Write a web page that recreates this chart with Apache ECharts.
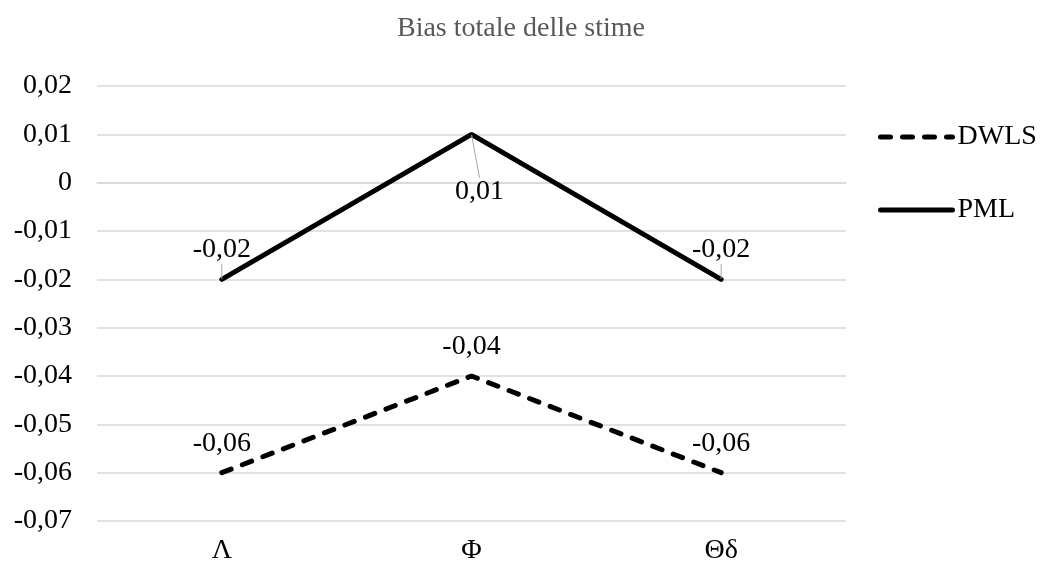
<!DOCTYPE html>
<html>
<head>
<meta charset="utf-8">
<script src="https://cdn.jsdelivr.net/npm/echarts@6/dist/echarts.min.js"></script>
<style>html,body{margin:0;padding:0;background:#fff}#c{width:1042px;height:570px}</style>
</head>
<body>
<div id="c"></div>
<script>
const categories = ['Λ', 'Φ', 'Θδ'];
const dwls = [-0.06, -0.04, -0.06];
const pml = [-0.02, 0.01, -0.02];
const seriesNames = ['DWLS', 'PML'];
const titleText = 'Bias totale delle stime';

const FONT = '"Liberation Serif", "Times New Roman", serif';
const FS = 28;
const fmt = v => { const r = Math.round(v * 100) / 100; return String(r).replace('.', ','); };

const chart = echarts.init(document.getElementById('c'));
chart.setOption({
  animation: false,
  backgroundColor: '#fff',
  title: { text: titleText, left: 'center', top: 10,
    textStyle: { fontFamily: FONT, fontSize: FS, fontWeight: 'normal', color: '#595959' } },
  grid: { left: 97, right: 196, top: 86, bottom: 49 },
  legend: {
    orient: 'vertical', left: 873, top: 118, itemWidth: 72, itemHeight: 20, itemGap: 45,
    textStyle: { fontFamily: FONT, fontSize: FS, color: '#000' },
    lineStyle: { width: 5, cap: 'round' },
    data: seriesNames
  },
  xAxis: {
    type: 'category', data: categories, boundaryGap: true,
    axisLine: { lineStyle: { color: '#d9d9d9', width: 1.5 } },
    axisTick: { show: false },
    axisLabel: { fontFamily: FONT, fontSize: FS, color: '#000', margin: 16 }
  },
  yAxis: {
    type: 'value', min: -0.07, max: 0.02, interval: 0.01,
    axisLine: { show: false }, axisTick: { show: false },
    splitLine: { lineStyle: { color: '#d9d9d9', width: 1.5 } },
    axisLabel: { fontFamily: FONT, fontSize: FS, color: '#000', margin: 25, formatter: fmt }
  },
  series: [
    {
      name: seriesNames[0], type: 'line', data: dwls, symbol: 'circle', symbolSize: 1,
      lineStyle: { color: '#000', width: 5, type: [10, 12], cap: 'round' },
      itemStyle: { color: 'rgba(0,0,0,0)' },
      label: { show: true, position: 'top', distance: 15, fontFamily: FONT, fontSize: FS, color: '#000', formatter: p => fmt(p.value) }
    },
    {
      name: seriesNames[1], type: 'line', data: pml, symbol: 'circle', symbolSize: 1,
      lineStyle: { color: '#000', width: 5, cap: 'round' },
      itemStyle: { color: 'rgba(0,0,0,0)' },
      label: { show: true, position: 'top', distance: 15, fontFamily: FONT, fontSize: FS, color: '#000', formatter: p => fmt(p.value) },
      labelLine: { show: true, lineStyle: { color: '#a6a6a6', width: 1 } },
      labelLayout: function (p) {
        if (p.dataIndex === 1) { return { dx: 8, dy: 87 }; }
        return {};
      }
    }
  ]
});
</script>
</body>
</html>
